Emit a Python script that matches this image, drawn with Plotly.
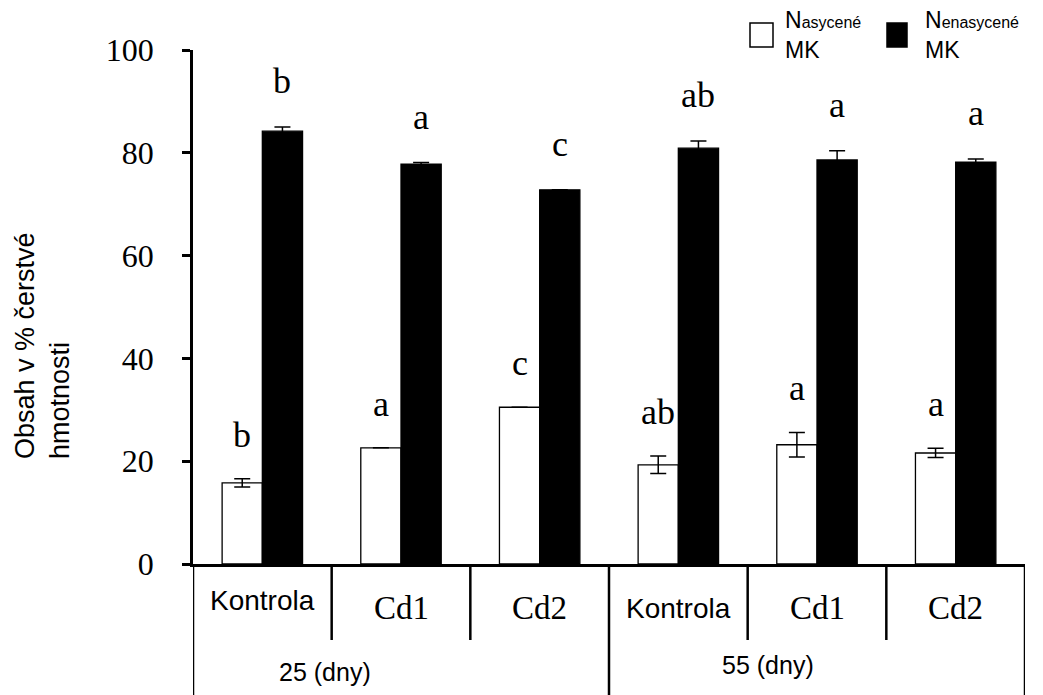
import plotly.graph_objects as go

# Treatments, grouped by sampling day
treatments = ["Kontrola", "Cd1", "Cd2", "Kontrola", "Cd1", "Cd2"]
periods = ["25 (dny)", "55 (dny)"]

# Fatty-acid content (% of fresh weight) with standard errors
saturated = [15.8, 22.6, 30.5, 19.3, 23.2, 21.6]
saturated_err = [0.8, 0.0, 0.0, 1.7, 2.4, 0.9]
unsaturated = [84.2, 77.8, 72.8, 80.9, 78.6, 78.2]
unsaturated_err = [0.8, 0.3, 0.0, 1.4, 1.8, 0.6]

# Significance letters
saturated_letters = ["b", "a", "c", "ab", "a", "a"]
unsaturated_letters = ["b", "a", "c", "ab", "a", "a"]

y_ticks = [0, 20, 40, 60, 80, 100]

SERIF = "Liberation Serif"
SANS = "Liberation Sans"
BAR_W = 0.29

W, H = 1043, 695
ML, MR, MT, MB = 193, 18, 50, 131
PW, PH = W - ML - MR, H - MT - MB


def px_x(px):
    return (px - ML) / PW


def px_y(py):
    return (H - MB - py) / PH


xs = list(range(len(treatments)))

fig = go.Figure()
fig.add_trace(go.Bar(
    x=xs, y=saturated, width=BAR_W, offset=-BAR_W,
    marker=dict(color="white", line=dict(color="black", width=1.3)),
    error_y=dict(type="data", array=saturated_err, color="black",
                 thickness=1.5, width=8),
    name="Nasycené MK", showlegend=False,
))
fig.add_trace(go.Bar(
    x=xs, y=unsaturated, width=BAR_W, offset=0,
    marker=dict(color="black", line=dict(color="black", width=1.3)),
    error_y=dict(type="data", array=unsaturated_err, color="black",
                 thickness=1.5, width=8),
    name="Nenasycené MK", showlegend=False,
))

annotations = []
# Letters above the bars
for i in xs:
    annotations.append(dict(
        x=i - BAR_W / 2, y=saturated[i] + saturated_err[i], xref="x", yref="y",
        text=saturated_letters[i], showarrow=False, yanchor="bottom", yshift=22,
        font=dict(family=SERIF, size=36, color="black")))
    annotations.append(dict(
        x=i + BAR_W / 2, y=unsaturated[i] + unsaturated_err[i], xref="x", yref="y",
        text=unsaturated_letters[i], showarrow=False, yanchor="bottom", yshift=24,
        font=dict(family=SERIF, size=36, color="black")))

# Treatment names in the table under the axis
for i, name in enumerate(treatments):
    sans = name == "Kontrola"
    annotations.append(dict(
        x=i, y=px_y(600 if i == 0 else 608), xref="x", yref="paper",
        text=name, showarrow=False, yanchor="middle",
        font=dict(family=SANS if sans else SERIF, size=28 if sans else 33,
                  color="black")))

# Sampling-day labels
for label, xc, yc in zip(periods, [0.45, 3.65], [672, 665]):
    annotations.append(dict(
        x=xc, y=px_y(yc), xref="x", yref="paper", text=label, showarrow=False,
        yanchor="middle", font=dict(family=SANS, size=25, color="black")))

# Y axis title
annotations.append(dict(
    x=px_x(42), y=px_y(346), xref="paper", yref="paper",
    text="Obsah v % čerstvé<br>hmotnosti", showarrow=False, textangle=-90,
    xanchor="center", yanchor="middle",
    align="left", font=dict(family=SANS, size=27, color="black")))

# Legend text
for label, xp in [("N<span style='font-size:16px'>asycené</span><br>MK", 783),
                  ("N<span style='font-size:16px'>enasycené</span><br>MK", 923)]:
    annotations.append(dict(
        x=px_x(xp), y=px_y(35), xref="paper", yref="paper", text=label,
        showarrow=False, xanchor="left", yanchor="middle", align="left",
        font=dict(family=SANS, size=23, color="black")))

shapes = []
bottom = px_y(H + 5)
# Y axis continues down through the table
shapes.append(dict(type="line", xref="x", yref="paper", x0=-0.5, x1=-0.5,
                   y0=0, y1=bottom, line=dict(color="black", width=2.5)))
# Short dividers between treatments
for xv in [0.5, 1.5, 3.5, 4.5]:
    shapes.append(dict(type="line", xref="x", yref="paper", x0=xv, x1=xv,
                       y0=0, y1=px_y(640), line=dict(color="black", width=2.5)))
# Full-height dividers between sampling days and at the right edge
for xv in [2.5, 5.5]:
    shapes.append(dict(type="line", xref="x", yref="paper", x0=xv, x1=xv,
                       y0=0, y1=bottom, line=dict(color="black", width=2.5)))
# Legend swatches
shapes.append(dict(type="rect", xref="paper", yref="paper",
                   x0=px_x(750), x1=px_x(773), y0=px_y(47), y1=px_y(23),
                   fillcolor="white", line=dict(color="black", width=1.5)))
shapes.append(dict(type="rect", xref="paper", yref="paper",
                   x0=px_x(887), x1=px_x(907), y0=px_y(47), y1=px_y(23),
                   fillcolor="black", line=dict(color="black", width=1.5)))

fig.update_layout(
    width=W, height=H,
    margin=dict(l=ML, r=MR, t=MT, b=MB, pad=0),
    paper_bgcolor="white", plot_bgcolor="white",
    barmode="overlay",
    showlegend=False,
    annotations=annotations,
    shapes=shapes,
    xaxis=dict(range=[-0.5, 5.5], showticklabels=False, ticks="",
               showgrid=False, zeroline=False, showline=True,
               linecolor="black", linewidth=2.5, fixedrange=True),
    yaxis=dict(range=[0, 100], tickvals=y_ticks, ticks="outside", ticklen=8,
               tickwidth=2.5, tickcolor="black", showgrid=False, zeroline=False,
               showline=True, linecolor="black", linewidth=2.5,
               ticklabelstandoff=22,
               tickfont=dict(family=SERIF, size=32, color="black")),
)

fig.write_html("out.html")
